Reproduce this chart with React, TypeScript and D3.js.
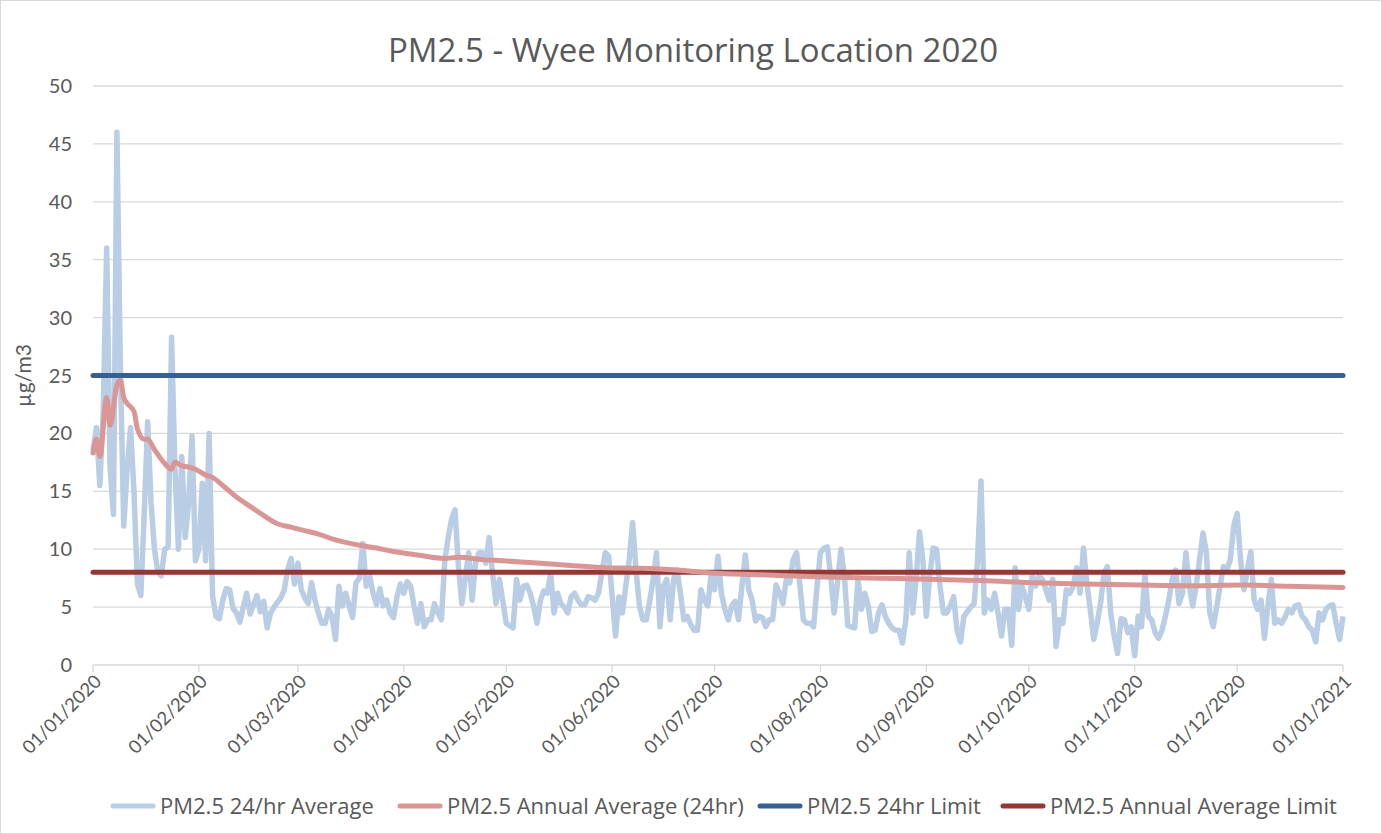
import { useEffect, useMemo } from 'react';
import * as d3 from 'd3';

// ---- data ----
const startDate = new Date(2020, 0, 1);
const endDate = new Date(2021, 0, 1);

// daily PM2.5 24hr averages, 01/01/2020 .. 01/01/2021
const janVals = [18.5, 20.5, 15.5, 22, 36, 17, 13, 46, 26, 12, 17, 20.5, 15, 7, 6, 13, 21, 14, 10, 8, 7.7, 10, 10.2, 28.3, 17, 10, 18, 11, 14, 19.8, 9];
const febVals = [10, 15.7, 9, 20, 6, 4.2, 4, 5.6, 6.6, 6.5, 4.9, 4.5, 3.7, 5, 6.2, 4.4, 5.2, 6, 4.6, 5.5, 3.2, 4.5, 5, 5.4, 5.8, 6.5, 8.2, 9.2, 7];
const marVals = [8.8, 6.5, 5.8, 5.3, 7.1, 5.6, 4.5, 3.6, 3.6, 4.8, 4.2, 2.2, 6.8, 5.1, 6.2, 5.1, 4.1, 7.1, 7.5, 10.5, 6.8, 7.7, 6.2, 5.2, 6.6, 5.1, 5.6, 4.5, 4.1, 5.9, 7];
const aprVals = [6.2, 7.2, 6.8, 5.1, 3.6, 5.3, 3.3, 3.9, 3.9, 5.3, 4.5, 3.9, 9, 11, 12.6, 13.4, 8.5, 5.3, 7.5, 9.7, 5.6, 8.8, 9.7, 9.7, 8.8, 11, 7.9, 5.3, 7.4, 5.5];
const mayVals = [3.6, 3.4, 3.2, 7.4, 5.6, 6.8, 6.9, 6.2, 5.1, 3.6, 5.6, 6.4, 6.2, 7.9, 4.5, 6.2, 5.3, 5, 4.5, 5.9, 6.2, 5.6, 5.2, 5.2, 5.9, 5.8, 5.6, 6.2, 8, 9.7, 9.4];
const junVals = [6, 2.5, 5.9, 4.5, 6.8, 9.1, 12.3, 8.2, 5.1, 3.9, 3.9, 5.5, 7.4, 9.7, 3.3, 6.8, 7.4, 3.9, 7.4, 8.2, 6.2, 3.9, 4.2, 3.5, 3, 3, 6.5, 5.6, 5.1, 7.9];
const julVals = [6.5, 9.4, 6.2, 4.8, 3.9, 5.1, 5.5, 3.9, 6.8, 9.5, 6.5, 5.6, 3.8, 4.2, 4.1, 3.3, 3.9, 3.9, 6.9, 6.2, 5.3, 7.4, 7.1, 9.1, 9.7, 6.8, 3.9, 3.6, 3.6, 3.3, 6.8];
const augVals = [9.7, 10.1, 10.2, 7.7, 4.5, 7.1, 10, 7.7, 3.4, 3.3, 3.2, 7.4, 4.8, 6.2, 5.1, 2.9, 3, 4.5, 5.2, 4.2, 3.6, 3.2, 3, 3, 1.9, 3.9, 9.7, 4.5, 7.4, 11.5, 9];
const sepVals = [4.2, 7.7, 10.1, 10, 6.8, 4.5, 4.5, 5.1, 5.9, 3, 2, 4.2, 4.6, 5, 5.3, 9.1, 15.9, 4.5, 5.6, 4.8, 6.2, 4.5, 2.5, 4.8, 4.8, 1.7, 8.4, 4.8, 6.8, 5.9];
const octVals = [4.8, 7.7, 6.8, 7.7, 7.4, 6.5, 5.6, 7.4, 1.6, 3.9, 3.6, 6.5, 6.2, 6.8, 8.4, 6.2, 10.1, 7.1, 4.8, 2.2, 3.6, 5.3, 7.9, 8.5, 4.5, 2.5, 1.0, 4, 3.9, 2.8, 3.3];
const novVals = [0.8, 4.2, 3.3, 7.9, 4.2, 3.9, 2.8, 2.3, 3, 4.2, 5.6, 7.4, 8.2, 5.3, 6.2, 9.7, 6.8, 5.1, 6.8, 9.1, 11.4, 9.7, 4.5, 3.3, 5, 6.8, 8.5, 8.2, 9.1, 12];
const decVals = [13.1, 9.1, 6.5, 8.2, 9.8, 5.6, 4.8, 5.6, 2.3, 5.1, 7.4, 3.6, 3.9, 3.6, 4.1, 4.8, 4.5, 5.1, 5.2, 4.2, 3.9, 3.3, 3, 2, 4.5, 3.9, 4.8, 5.1, 5.2, 3.6, 2.2, 4.2];

// running annual average, sampled (day index from 01/01/2020)
const avgDay = [0, 1, 2, 4, 5, 7, 8, 9, 10, 12, 13, 15, 16, 18, 21, 23, 24, 26, 28, 30, 33, 35, 38, 42, 46, 50, 54, 58, 62, 66, 71, 77, 83, 88, 95, 103, 107, 114, 120, 130, 140, 150, 160, 171, 181, 195, 214, 230, 245, 260, 276, 290, 307, 320, 337, 350, 366];
const avgVal = [18.3, 19.5, 18, 23.1, 20.7, 24.2, 24.6, 23.1, 22.6, 21.9, 20.4, 19.5, 19.5, 18.6, 17.4, 16.9, 17.5, 17.2, 17.1, 16.9, 16.4, 16.2, 15.5, 14.5, 13.7, 12.9, 12.2, 11.9, 11.6, 11.3, 10.8, 10.4, 10.1, 9.8, 9.5, 9.2, 9.3, 9.1, 9.0, 8.8, 8.6, 8.4, 8.35, 8.2, 7.95, 7.8, 7.6, 7.5, 7.4, 7.3, 7.1, 7.0, 6.9, 6.85, 6.9, 6.8, 6.7];

const limit24hr = 25;
const limitAnnual = 8;
const yTicks = [0, 5, 10, 15, 20, 25, 30, 35, 40, 45, 50];

const legendLabels = ['PM2.5 24/hr Average', 'PM2.5 Annual Average (24hr)', 'PM2.5 24hr Limit', 'PM2.5 Annual Average Limit'];
const colors = ['#b9cde5', '#d99694', '#376092', '#953735'];

const W = 1382;
const H = 834;
const FONT = "Lato, 'Open Sans', sans-serif";
const FONT_WIDE = "'Open Sans', Lato, sans-serif";
const TXT = '#595959';

export default function App() {
  useEffect(() => {
    document.body.style.margin = '0';
  }, []);

  const margin = { top: 86, right: 39, bottom: 169, left: 93 };
  const innerW = W - margin.left - margin.right;
  const innerH = H - margin.top - margin.bottom;

  const daily = useMemo(
    () => [...janVals, ...febVals, ...marVals, ...aprVals, ...mayVals, ...junVals, ...julVals, ...augVals, ...sepVals, ...octVals, ...novVals, ...decVals],
    []
  );

  const x = d3.scaleTime().domain([startDate, endDate]).range([0, innerW]);
  const y = d3.scaleLinear().domain([0, 50]).range([innerH, 0]);

  const dailyLine = d3
    .line<number>()
    .x((_, i) => x(d3.timeDay.offset(startDate, i)))
    .y((d) => y(d));

  const avgLine = d3
    .line<number>()
    .x((_, i) => x(d3.timeDay.offset(startDate, avgDay[i])))
    .y((d) => y(d))
    .curve(d3.curveMonotoneX);

  const months = d3.timeMonth.range(startDate, d3.timeDay.offset(endDate, 1));
  const fmt = d3.timeFormat('%d/%m/%Y');

  const legendX = [113, 400, 760, 1003];

  return (
    <svg width={W} height={H} style={{ display: 'block' }} fontFamily={FONT}>
      <rect x={0} y={0} width={W} height={H} fill="#fff" />
      <rect x={0.5} y={0.5} width={W - 1} height={H - 1} fill="none" stroke="#d9d9d9" />

      {/* title */}
      <text x={693} y={62} textAnchor="middle" fontSize={33} fill={TXT} fontFamily={FONT_WIDE}>
        PM2.5 - Wyee Monitoring Location 2020
      </text>

      <g transform={`translate(${margin.left},${margin.top})`}>
        {/* grid + y labels */}
        {yTicks.map((t) => (
          <g key={t} transform={`translate(0,${y(t)})`}>
            <line x1={0} x2={innerW} stroke="#d9d9d9" strokeWidth={1.3} />
            <text x={-21} y={0} dy="0.35em" textAnchor="end" fontSize={20} fill={TXT}>
              {t}
            </text>
          </g>
        ))}
        {/* x ticks */}
        {months.map((m) => (
          <g key={+m} transform={`translate(${x(m)},${innerH})`}>
            <line y1={0} y2={7} stroke="#d9d9d9" strokeWidth={1.3} />
            <text
              transform="translate(5,13) rotate(-45)"
              textAnchor="end"
              fontSize={18.5}
              fill={TXT}
              dy="0.35em"
            >
              {fmt(m)}
            </text>
          </g>
        ))}
        <text
          transform={`translate(-62,${innerH / 2}) rotate(-90)`}
          textAnchor="middle"
          fontSize={21}
          fill={TXT}
        >
          µg/m3
        </text>

        {/* series */}
        <path d={dailyLine(daily) ?? ''} fill="none" stroke={colors[0]} strokeWidth={5.5} strokeLinejoin="round" />
        <line x1={0} x2={innerW} y1={y(limit24hr)} y2={y(limit24hr)} stroke={colors[2]} strokeWidth={5} strokeLinecap="round" />
        <line x1={0} x2={innerW} y1={y(limitAnnual)} y2={y(limitAnnual)} stroke={colors[3]} strokeWidth={5} strokeLinecap="round" />
        <path d={avgLine(avgVal) ?? ''} fill="none" stroke={colors[1]} strokeWidth={5} strokeLinejoin="round" strokeLinecap="round" />
      </g>

      {/* legend */}
      {legendLabels.map((l, i) => (
        <g key={l} transform={`translate(${legendX[i]},806)`}>
          <line x1={0} x2={40} stroke={colors[i]} strokeWidth={5} strokeLinecap="round" />
          <text x={47} dy="0.35em" fontSize={22} fill={TXT} fontFamily={FONT_WIDE}>
            {l}
          </text>
        </g>
      ))}
    </svg>
  );
}
